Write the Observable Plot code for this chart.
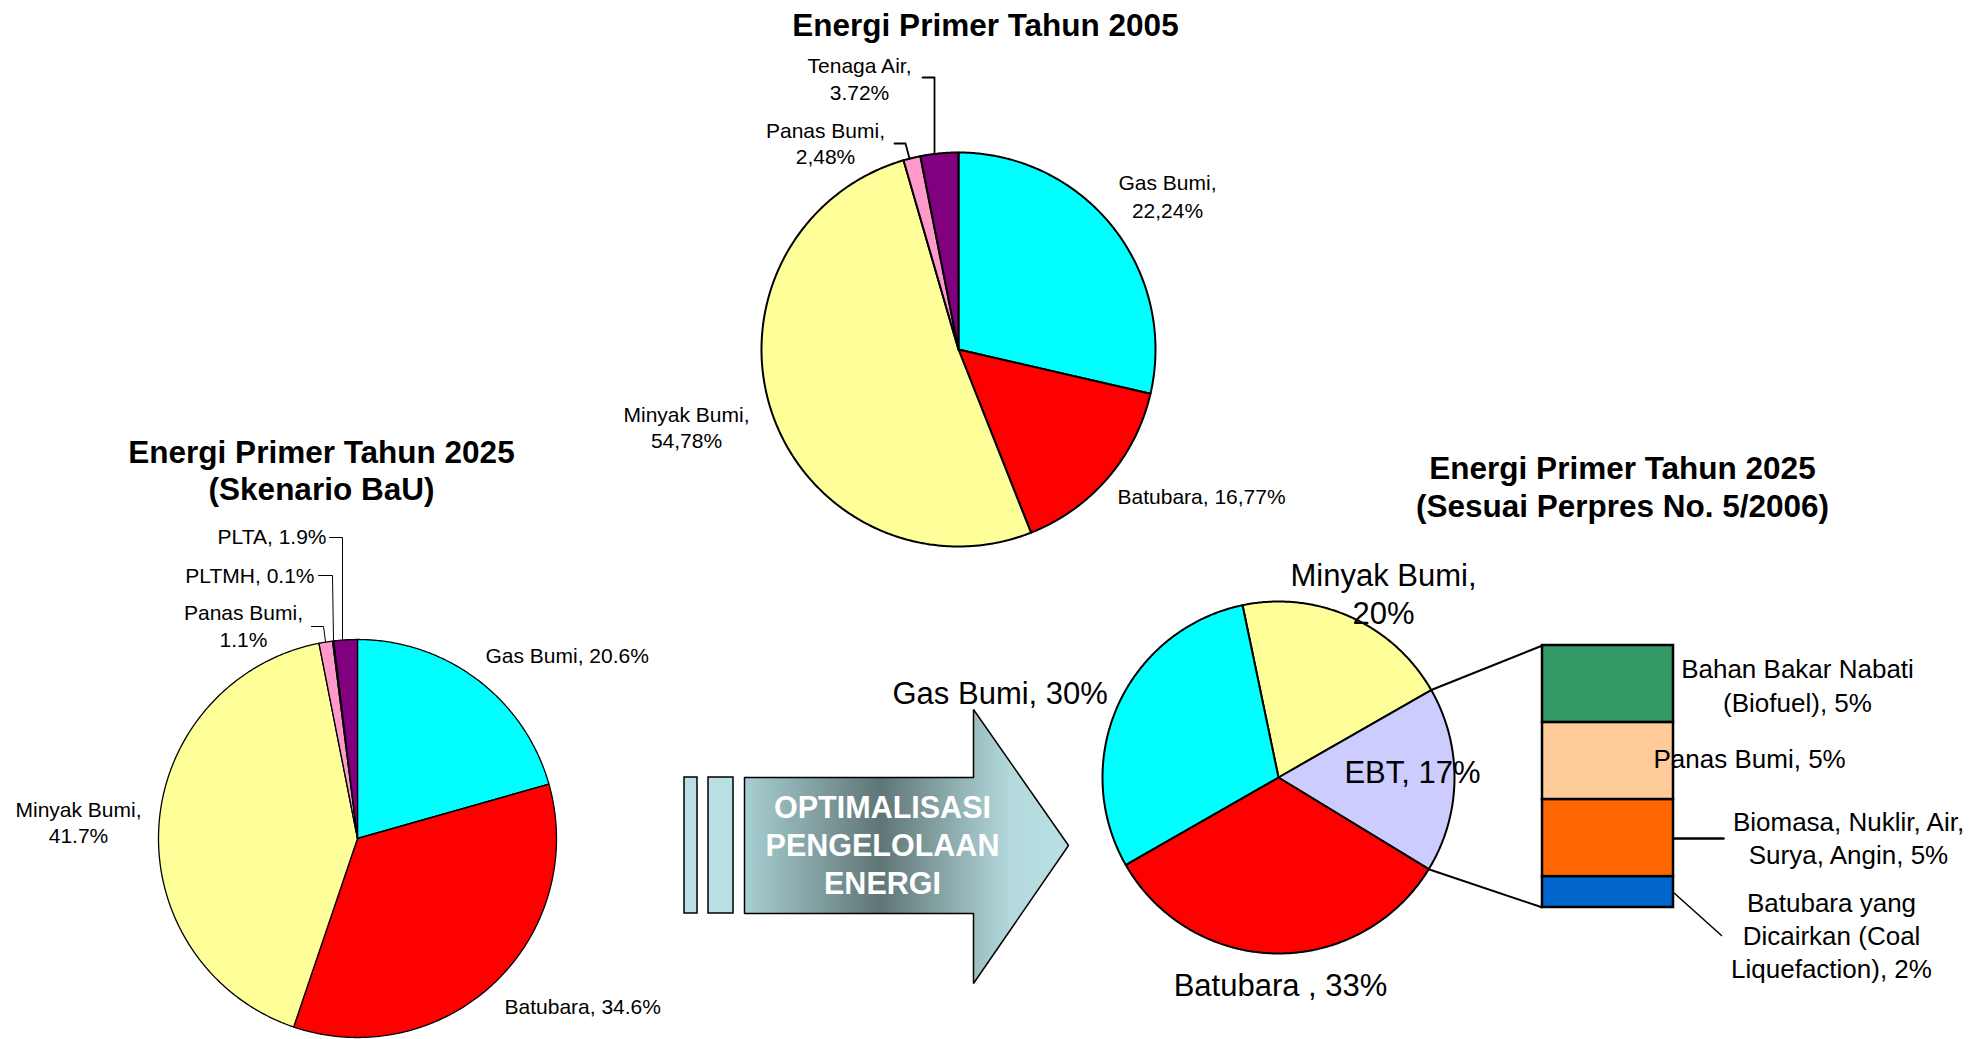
<!DOCTYPE html>
<html>
<head>
<meta charset="utf-8">
<script src="https://cdn.jsdelivr.net/npm/d3@7"></script>
<script src="https://cdn.jsdelivr.net/npm/@observablehq/plot@0.6"></script>
<style>
  html, body { margin: 0; padding: 0; background: #fff; overflow: hidden; }
  #wrap { position: relative; width: 1971px; height: 1039px; }
  #wrap > svg { position: absolute; }
</style>
</head>
<body>
<div id="wrap"></div>
<script>
// ---------------- DATA ----------------
// 2005 pie: printed data labels, and slice sizes as they are drawn in the picture (%)
const sources2005 = ["Gas Bumi", "Batubara", "Minyak Bumi", "Panas Bumi", "Tenaga Air"];
const labels2005  = ["22,24%", "16,77%", "54,78%", "2,48%", "3.72%"];
const share2005   = [28.6, 15.4, 51.5, 1.4, 3.1];

// 2025 BaU scenario pie (%)
const sourcesBaU = ["Gas Bumi", "Batubara", "Minyak Bumi", "Panas Bumi", "PLTMH", "PLTA"];
const shareBaU   = [20.6, 34.6, 41.7, 1.1, 0.1, 1.9];

// 2025 Perpres 5/2006 pie (%)
const sources2025 = ["Minyak Bumi", "EBT", "Batubara", "Gas Bumi"];
const share2025   = [20, 17, 33, 30];

// EBT breakdown (%)
const ebtParts = ["Bahan Bakar Nabati (Biofuel)", "Panas Bumi", "Biomasa, Nuklir, Air, Surya, Angin", "Batubara yang Dicairkan (Coal Liquefaction)"];
const ebtShare = [5, 5, 5, 2];

const title2005 = ["Energi Primer Tahun 2005"];
const titleBaU  = ["Energi Primer Tahun 2025", "(Skenario BaU)"];
const title2025 = ["Energi Primer Tahun 2025", "(Sesuai Perpres No. 5/2006)"];
const arrowText = ["OPTIMALISASI", "PENGELOLAAN", "ENERGI"];
const pageNumber = "58";

// ---------------- STYLES / LAYOUT ----------------
const W = 1971, H = 1039;
const FONT = "'Liberation Sans', Arial, Helvetica, sans-serif";
const sliceColor = {
  "Gas Bumi": "#00ffff", "Batubara": "#ff0000", "Minyak Bumi": "#ffff99",
  "Panas Bumi": "#ff99cc", "Tenaga Air": "#800080", "PLTA": "#800080",
  "PLTMH": "#ccffff", "EBT": "#ccccff"
};
const ebtColor = ["#339966", "#ffcc99", "#ff6600", "#0066cc"];

const pie2005 = {cx: 958, cy: 349, r: 197, start: 0, sw: 2};
const pieBaU  = {cx: 357, cy: 838, r: 199, start: 0, sw: 1.3};
const pie2025 = {cx: 1278, cy: 777, r: 176, start: -11.8, sw: 2};
const BAR = {x: 1542, y: 645, w: 131, h: 262};
const ARROW = {bars: [[684, 697], [708, 733]], y0: 777, y1: 913, x0: 744, headX: 973, headY0: 709, headY1: 983, tipX: 1068};

const lay2005 = [
  {x: 1167, y: 189, dy: 28, anchor: "middle", breaks: [2]},
  {x: 1117, y: 503, anchor: "start"},
  {x: 686, y: 421, dy: 26, anchor: "middle", breaks: [2]},
  {x: 825, y: 137, dy: 26, anchor: "middle", breaks: [2]},
  {x: 859, y: 72, dy: 27, anchor: "middle", breaks: [2]}
];
const layBaU = [
  {x: 485, y: 662, anchor: "start"},
  {x: 504, y: 1013, anchor: "start"},
  {x: 78, y: 816, dy: 26, anchor: "middle", breaks: [2]},
  {x: 243, y: 619, dy: 27, anchor: "middle", breaks: [2]},
  {x: 314, y: 582, anchor: "end"},
  {x: 326, y: 543, anchor: "end"}
];
const lay2025 = [
  {x: 1383, y: 585, dy: 38, anchor: "middle", breaks: [2]},
  {x: 1412, y: 782, anchor: "middle"},
  {x: 1280, y: 995, anchor: "middle", sep: " , "},
  {x: 892, y: 703, anchor: "start"}
];
const layEbt = [
  {x: 1797, y: 677, dy: 34, anchor: "middle", breaks: [3]},
  {x: 1653, y: 767, anchor: "start"},
  {x: 1848, y: 830, dy: 33, anchor: "middle", breaks: [3]},
  {x: 1831, y: 911, dy: 33, anchor: "middle", breaks: [2, 4]}
];
// leader lines (annotation geometry)
const leaders = [
  {w: 1.8, pts: [[922, 77], [934, 77], [934, 153]]},
  {w: 1.8, pts: [[894, 143], [905, 143], [909, 158]]},
  {w: 1, pts: [[329, 537], [342, 537], [342, 639]]},
  {w: 1, pts: [[318, 575], [332, 575], [333, 640]]},
  {w: 1, pts: [[311, 626], [323, 626], [325, 641]]},
  {w: 2.5, pts: [[1673, 838], [1723, 838]]},
  {w: 1.5, pts: [[1673, 892], [1721, 935]]}
];

// ---------------- HELPERS ----------------
const rad = d => d * Math.PI / 180;
function pieSlices(names, shares, P) {
  const arcs = d3.pie().sort(null).value(d => d.share)
    .startAngle(rad(P.start)).endAngle(rad(P.start) + 2 * Math.PI)(names.map((name, i) => ({name, share: shares[i]})));
  return arcs.map(a => {
    const pts = [{x: P.cx, y: P.cy}];
    const n = Math.max(2, Math.ceil((a.endAngle - a.startAngle) / rad(0.5)));
    for (let k = 0; k <= n; k++) {
      const t = a.startAngle + (a.endAngle - a.startAngle) * k / n;
      pts.push({x: P.cx + P.r * Math.sin(t), y: P.cy - P.r * Math.cos(t)});
    }
    pts.push({x: P.cx, y: P.cy});
    return {name: a.data.name, a, pts};
  });
}
function wrapWords(str, breaks = []) {
  const out = []; let cur = [];
  str.split(" ").forEach((w, i) => { if (breaks.includes(i) && cur.length) { out.push(cur.join(" ")); cur = []; } cur.push(w); });
  out.push(cur.join(" "));
  return out;
}
const rows = [];
function addLines(lines, L, style) {
  lines.forEach((t, k) => rows.push({x: L.x, y: L.y + k * (L.dy || 0), text: t, anchor: L.anchor || "middle", ...style}));
}

// ---------------- BUILD ----------------
const s2005 = pieSlices(sources2005, share2005, pie2005);
const sBaU  = pieSlices(sourcesBaU, shareBaU, pieBaU);
const s2025 = pieSlices(sources2025, share2025, pie2025);

const small = {size: 21, weight: "normal", fill: "black"};
lay2005.forEach((L, i) => addLines(wrapWords(`${sources2005[i]}, ${labels2005[i]}`, L.breaks), L, small));
layBaU.forEach((L, i) => addLines(wrapWords(`${sourcesBaU[i]}, ${shareBaU[i].toFixed(1)}%`, L.breaks), L, small));
lay2025.forEach((L, i) => addLines(wrapWords(`${sources2025[i]}${L.sep || ", "}${share2025[i]}%`, L.breaks), L, {size: 31, weight: "normal", fill: "black"}));
layEbt.forEach((L, i) => addLines(wrapWords(`${ebtParts[i]}, ${ebtShare[i]}%`, L.breaks), L, {size: 26, weight: "normal", fill: "black"}));
const titleStyle = {size: 31.5, weight: "bold", fill: "black"};
addLines(title2005, {x: 985, y: 35, dy: 0}, titleStyle);
addLines(titleBaU, {x: 321, y: 462, dy: 37}, titleStyle);
addLines(title2025, {x: 1622, y: 478, dy: 38}, titleStyle);
addLines(arrowText, {x: 882, y: 817, dy: 38}, {size: 30.5, weight: "bold", fill: "white"});
addLines([pageNumber], {x: 1927, y: 1060, anchor: "start"}, {size: 30, weight: "normal", fill: "black"});

const textMarks = Array.from(d3.group(rows, d => [d.anchor, d.size, d.weight, d.fill].join("|")), ([, rs]) =>
  Plot.text(rs, {x: "x", y: "y", text: "text", textAnchor: rs[0].anchor, fontSize: rs[0].size,
    fontWeight: rs[0].weight, fill: rs[0].fill, lineAnchor: "bottom", fontFamily: FONT}));

const sliceMarks = (slices, P) => slices.map(s =>
  Plot.line(s.pts, {x: "x", y: "y", fill: sliceColor[s.name], stroke: "black", strokeWidth: P.sw, strokeLinejoin: "round"}));

const A = ARROW, midY = (A.y0 + A.y1) / 2;
const arrowPts = [[A.x0, A.y0], [A.headX, A.y0], [A.headX, A.headY0], [A.tipX, midY], [A.headX, A.headY1], [A.headX, A.y1], [A.x0, A.y1], [A.x0, A.y0]].map(([x, y]) => ({x, y}));
const arrowBars = A.bars.map(([x1, x2]) => ({x1, x2, y1: A.y0, y2: A.y1}));

// connectors from the EBT slice edge to the stacked bar
const ebtArc = s2025.find(s => s.name === "EBT").a;
const edge = t => ({x: pie2025.cx + pie2025.r * Math.sin(t), y: pie2025.cy - pie2025.r * Math.cos(t)});
const e0 = edge(ebtArc.startAngle), e1 = edge(ebtArc.endAngle);
const connectors = [
  {x1: e0.x, y1: e0.y, x2: BAR.x, y2: BAR.y},
  {x1: e1.x, y1: e1.y, x2: BAR.x, y2: BAR.y + BAR.h}
];

const main = Plot.plot({
  width: W, height: H, margin: 0,
  x: {domain: [0, W], range: [0, W], axis: null},
  y: {domain: [0, H], range: [0, H], axis: null},
  style: {background: "transparent", fontFamily: FONT},
  marks: [
    ...sliceMarks(s2005, pie2005),
    ...sliceMarks(sBaU, pieBaU),
    ...sliceMarks(s2025, pie2025),
    Plot.rect(arrowBars, {x1: "x1", x2: "x2", y1: "y1", y2: "y2", fill: "#b9dfe2", stroke: "black", strokeWidth: 1.5}),
    Plot.line(arrowPts, {x: "x", y: "y", fill: "url(#arrowGrad)", stroke: "black", strokeWidth: 1.5, strokeLinejoin: "miter"}),
    Plot.link(connectors, {x1: "x1", y1: "y1", x2: "x2", y2: "y2", stroke: "black", strokeWidth: 2}),
    ...leaders.map(l => Plot.line(l.pts.map(([x, y]) => ({x, y})), {x: "x", y: "y", stroke: "black", strokeWidth: l.w})),
    ...textMarks
  ]
});
const defs = d3.select(main).insert("defs", ":first-child");
const grad = defs.append("linearGradient").attr("id", "arrowGrad").attr("x1", "0").attr("x2", "1").attr("y1", "0").attr("y2", "0");
[[0, "#a8cfd2"], [0.42, "#5f7575"], [0.82, "#b3d9dc"], [1, "#b9e0e3"]].forEach(([o, c]) =>
  grad.append("stop").attr("offset", o).attr("stop-color", c));

// stacked EBT bar
const ebt = ebtParts.map((name, i) => ({name, share: ebtShare[i], i}));
const bar = Plot.plot({
  width: BAR.w + 4, height: BAR.h + 4,
  marginTop: 2, marginBottom: 2, marginLeft: 2, marginRight: 2,
  x: {axis: null, padding: 0},
  y: {axis: null, domain: [0, d3.sum(ebtShare)]},
  color: {type: "identity"},
  style: {background: "transparent"},
  marks: [
    Plot.barY(ebt, Plot.stackY({x: () => "EBT", y: "share", fill: d => ebtColor[d.i], stroke: "black", strokeWidth: 2.5, reverse: true, inset: 0}))
  ]
});
bar.style.left = (BAR.x - 2) + "px";
bar.style.top = (BAR.y - 2) + "px";
main.style.left = "0px";
main.style.top = "0px";

const wrap = document.getElementById("wrap");
wrap.appendChild(bar);
wrap.appendChild(main);
</script>
</body>
</html>
